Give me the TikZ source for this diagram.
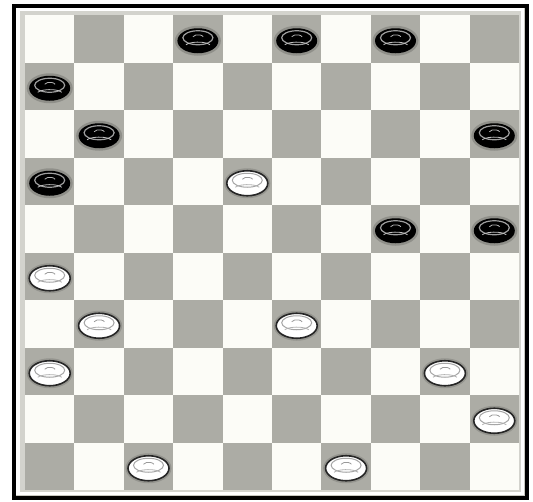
\documentclass[tikz,border=0pt]{standalone}
\usetikzlibrary{calc}
\definecolor{sqlight}{RGB}{252,252,247}
\definecolor{sqdark}{RGB}{172,172,165}
\definecolor{framegray}{RGB}{200,200,192}
\definecolor{halo}{RGB}{120,120,115}
\tikzset{
  bpiece/.pic={
    \fill[halo, opacity=0.55] (0,2) ellipse [x radius=23, y radius=15];
    \fill[black] (0,2) ellipse [x radius=20.5, y radius=12.5];
    \draw[gray!75, line width=1.2] (0,-1) ellipse [x radius=15, y radius=7];
    \draw[gray!60, line width=0.8] (-5,-2) arc[start angle=200, end angle=340, x radius=5.5, y radius=3];
    \draw[gray!50, line width=0.8] (-12,6) arc[start angle=200, end angle=340, x radius=12.8, y radius=4];
  },
  wpiece/.pic={
    \fill[halo, opacity=0.45] (0,2) ellipse [x radius=23, y radius=15];
    \filldraw[fill=white, draw=black!85, line width=1.6] (0,2) ellipse [x radius=20.5, y radius=12.5];
    \draw[gray!70, line width=1] (0,-1) ellipse [x radius=15, y radius=7];
    \draw[gray!80, line width=0.8] (-5,-2) arc[start angle=200, end angle=340, x radius=5.5, y radius=3];
    \draw[gray!60, line width=0.8] (-12,6) arc[start angle=200, end angle=340, x radius=12.8, y radius=4];
  }
}
\begin{document}
\begin{tikzpicture}[x=1pt,y=-1pt]
\useasboundingbox (0,0) rectangle (533,501);
\fill[white] (0,0) rectangle (533,501);
% frame
\fill[framegray] (14,6) rectangle (526,497);
\fill[white] (16,8) rectangle (524,495);
\fill[framegray!80] (20,11) rectangle (521,492);
% squares
\pgfmathsetmacro{\xo}{25}
\pgfmathsetmacro{\yo}{15}
\pgfmathsetmacro{\sw}{49.4}
\pgfmathsetmacro{\sh}{47.5}
\foreach \r in {0,...,9}{
  \foreach \c in {0,...,9}{
    \pgfmathtruncatemacro{\pty}{mod(\r+\c,2)}
    \ifnum\pty=1
      \fill[sqdark] ({\xo+\c*\sw},{\yo+\r*\sh}) rectangle ++(\sw,\sh);
    \else
      \fill[sqlight] ({\xo+\c*\sw},{\yo+\r*\sh}) rectangle ++(\sw,\sh);
    \fi
  }
}
% outer black border
\draw[black, line width=4] (13.5,5.5) rectangle (526.5,497.5);
% black pieces
\foreach \r/\c in {0/3,0/5,0/7,1/0,2/1,2/9,3/0,4/7,4/9}{
  \pic at ({\xo+(\c+0.5)*\sw},{\yo+(\r+0.5)*\sh}) {bpiece};
}
% white pieces
\foreach \r/\c in {3/4,5/0,6/1,6/5,7/0,7/8,8/9,9/2,9/6}{
  \pic at ({\xo+(\c+0.5)*\sw},{\yo+(\r+0.5)*\sh}) {wpiece};
}
\end{tikzpicture}
\end{document}
